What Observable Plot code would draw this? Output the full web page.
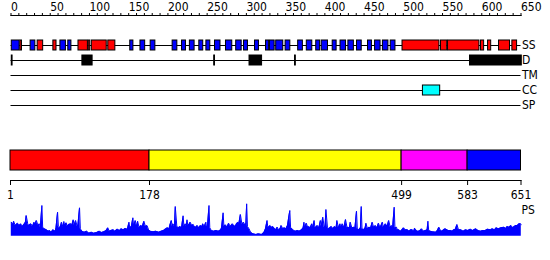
<!DOCTYPE html>
<html><head><meta charset="utf-8">
<script src="https://cdn.jsdelivr.net/npm/d3@7"></script>
<script src="https://cdn.jsdelivr.net/npm/@observablehq/plot@0.6"></script>
<style>
body{margin:0;background:#fff}
#chart{position:relative;width:550px;height:260px}
#chart svg{position:absolute;left:0;top:0}
</style></head><body><div id="chart"></div>
<script>
// ---- data ----
const tracks = ["SS", "D", "TM", "CC", "SP"];
const rulerTicks = d3.range(0, 651, 10);

// secondary structure: H = helix (red), E = strand (blue)
const ssStart = [1, 12, 25, 34, 54, 63, 73, 86, 99, 103, 124, 152, 165, 178, 206, 218, 228, 240, 249, 260, 274, 287, 297, 311, 325, 330, 338, 350, 366, 377, 389, 396, 410, 420, 430, 441, 455, 464, 474, 484, 499, 548, 557, 599, 608, 622, 639];
const ssEnd   = [11, 14, 31, 41, 58, 70, 77, 98, 101, 122, 133, 156, 171, 184, 212, 223, 234, 245, 254, 267, 282, 294, 302, 316, 329, 336, 347, 356, 372, 384, 394, 404, 415, 427, 437, 447, 460, 471, 481, 490, 546, 556, 597, 603, 612, 636, 645];
const ssType  = ["E","H","E","H","H","E","E","H","H","H","H","E","E","E","E","E","E","E","E","E","E","E","E","E","E","E","E","E","E","E","E","E","E","E","E","E","E","E","E","E","H","H","H","H","H","H","H"];

// disorder
const dStart = [1, 91, 259, 304, 362, 585];
const dEnd   = [2, 104, 260, 320, 363, 651];

// coiled coil
const ccStart = [525];
const ccEnd   = [547];

// domains
const domStart = [1, 178, 499, 583];
const domEnd   = [178, 499, 583, 651];
const domColor = ["#ff0000", "#ffff00", "#ff00ff", "#0000ff"];
const domTicks = [1, 178, 499, 583, 651];

// PS profile (residue, value)
const psRes = [1,3,4,6,9,11,13,15,17,19,20,22,23,26,28,30,31,33,35,37,38,40,41,43,46,48,50,52,54,57,58,60,61,62,64,65,67,68,69,71,72,74,77,78,80,81,83,85,86,88,89,91,94,97,100,103,106,110,113,116,119,122,124,126,128,131,133,136,139,141,144,146,149,151,152,154,156,157,159,161,162,164,166,168,170,172,174,176,178,182,185,189,192,195,198,200,202,203,205,206,207,209,210,212,214,216,218,220,221,223,224,225,226,228,229,231,233,234,236,238,240,242,244,245,247,249,250,251,253,254,256,259,262,265,268,269,271,272,274,276,278,280,283,285,287,288,290,291,293,295,297,298,300,301,302,304,306,309,313,316,320,323,325,327,328,331,332,334,336,338,340,342,344,345,347,349,351,353,356,357,359,361,363,366,368,371,373,374,375,377,379,380,382,384,385,387,388,390,391,393,395,396,398,400,401,402,404,405,407,409,411,413,415,416,418,420,421,423,425,427,429,430,432,433,435,438,439,441,442,444,446,447,448,450,452,453,455,457,459,461,463,465,467,469,471,474,475,478,480,482,484,486,487,489,490,492,493,495,497,499,501,503,506,508,510,512,514,515,518,520,522,524,526,529,531,532,533,535,538,542,544,546,548,550,552,554,558,561,563,565,567,569,571,574,577,580,583,586,589,593,596,599,602,605,608,612,614,617,619,622,625,629,631,633,635,638,640,642,644,646,648,650,651];
const psVal = [14.0,11.7,15.0,10.7,13.0,10.4,12.4,9.7,11.7,14.0,20.7,12.4,10.7,12.4,9.7,14.0,11.7,15.7,10.7,12.4,8.4,30.7,9.0,7.4,6.4,5.0,5.7,4.0,6.4,5.0,8.4,24.0,9.7,7.4,10.7,14.0,9.0,14.7,10.7,13.4,9.7,11.7,12.4,10.7,16.4,10.7,15.7,9.7,11.7,28.4,7.4,5.0,4.0,5.0,3.0,4.0,3.0,3.7,5.0,3.7,4.4,5.7,8.4,5.0,5.7,6.4,5.0,7.0,5.7,7.4,6.4,7.7,7.0,14.0,8.4,9.7,18.4,9.7,15.7,9.7,15.0,8.4,10.7,9.7,15.0,9.7,10.7,6.4,5.0,4.4,5.0,4.0,5.0,5.7,7.4,8.4,7.4,10.7,15.7,9.7,12.4,9.7,29.7,9.7,8.4,9.7,8.4,20.4,9.7,12.4,9.7,16.4,10.7,12.4,14.0,10.7,11.7,9.7,9.0,10.7,8.4,10.7,9.7,12.4,9.7,14.0,8.4,9.7,30.7,8.4,5.7,5.0,5.7,5.0,6.4,8.4,23.4,9.7,11.4,9.0,13.0,9.7,12.4,9.7,10.7,12.4,14.0,12.4,21.7,11.7,14.0,11.7,12.4,32.4,9.7,7.4,4.0,2.4,1.7,2.4,1.7,3.7,7.4,15.7,8.4,10.7,8.4,9.7,8.4,6.4,9.0,5.7,8.4,10.7,7.4,8.4,7.4,10.7,25.7,8.4,7.4,5.7,5.0,5.7,5.0,6.4,8.4,14.0,8.4,13.0,8.4,9.7,8.4,12.4,8.4,15.7,8.4,9.7,10.7,8.4,15.7,9.7,19.0,8.4,10.7,26.7,8.4,7.4,8.4,9.7,7.4,9.7,8.4,15.7,8.4,12.4,8.4,12.4,8.4,16.7,8.4,9.0,8.4,14.0,8.4,9.0,8.4,25.0,7.4,6.4,8.4,29.7,7.4,6.4,8.4,13.0,7.4,9.0,8.4,14.0,8.4,10.7,8.4,13.0,8.4,14.0,9.0,12.4,9.7,15.7,9.0,10.7,8.4,29.0,8.4,9.0,6.4,6.4,5.0,6.4,8.4,6.4,6.4,5.0,6.4,6.4,5.0,8.0,5.0,5.0,5.7,7.4,5.0,5.7,6.4,15.0,5.7,5.0,4.4,4.0,5.7,9.0,5.7,5.0,6.4,7.4,5.7,5.7,5.0,6.4,7.0,11.7,6.4,6.4,5.0,6.4,5.7,7.0,5.7,7.4,5.7,5.0,5.7,5.7,7.0,6.4,7.4,6.4,8.4,7.4,8.4,9.0,7.7,9.7,9.0,10.7,8.4,9.7,10.7,10.7,12.4,12.4,11.7];

// ---- build tables ----
const ss = ssStart.map((s, i) => ({track: "SS", start: s, end: ssEnd[i], type: ssType[i]}));
const dis = dStart.map((s, i) => ({track: "D", start: s, end: dEnd[i]}));
const cc = ccStart.map((s, i) => ({track: "CC", start: s, end: ccEnd[i]}));
const domains = domStart.map((s, i) => ({start: s, end: domEnd[i], color: domColor[i]}));
const ps = psRes.map((r, i) => ({r, v: psVal[i]}));

const style = {background: "none", color: "black", fontFamily: "'DejaVu Sans Condensed','DejaVu Sans',sans-serif", fontStretch: "condensed", fontSize: "12px", overflow: "visible"};

const chart = document.getElementById("chart");

// tracks + ruler
chart.append(Plot.plot({
  width: 550, height: 260, marginLeft: 10.5, marginRight: 29.5, marginTop: 15, marginBottom: 0,
  style,
  x: {domain: [0, 650], axis: null},
  y: {type: "band", domain: tracks, range: [37.5, 112.5], paddingInner: 1/3, paddingOuter: 1/6, axis: null},
  marks: [
    Plot.frame({anchor: "top"}),
    Plot.axisX({anchor: "top", ticks: rulerTicks, tickSize: 3, tickPadding: 2, textAnchor: "start", tickFormat: d => d % 50 === 0 ? String(d) : ""}),
    Plot.ruleY(tracks, {y: d => d, x1: 0, x2: 650, stroke: "black"}),
    Plot.barX(ss, {x1: "start", x2: "end", y: "track", fill: d => d.type === "H" ? "#ff0000" : "#0000ff", stroke: "black", strokeWidth: 1}),
    Plot.barX(dis, {x1: "start", x2: "end", y: "track", fill: "black", stroke: "black", strokeWidth: 1}),
    Plot.barX(cc, {x1: "start", x2: "end", y: "track", fill: "#00ffff", stroke: "black", strokeWidth: 1}),
    Plot.text(tracks, {y: d => d, text: d => d, frameAnchor: "right", textAnchor: "start", dx: 1, fill: "black"})
  ]
}));

// domain bar + axis
chart.append(Plot.plot({
  width: 550, height: 260, marginLeft: 10, marginRight: 29.5, marginTop: 150, marginBottom: 80,
  style,
  x: {domain: [1, 651], axis: null},
  y: {type: "band", domain: ["domains"], range: [150, 170], padding: 0, axis: null},
  marks: [
    Plot.barX(domains, {x1: "start", x2: "end", y: () => "domains", fill: "color", stroke: "black", strokeWidth: 1}),
    Plot.frame({anchor: "bottom"}),
    Plot.axisX({anchor: "bottom", ticks: domTicks, tickSize: 5, tickPadding: 5, tickFormat: d => String(d)})
  ]
}));

// PS profile
chart.append(Plot.plot({
  width: 550, height: 260, marginLeft: 10, marginRight: 30, marginTop: 200.7, marginBottom: 24.3,
  style,
  x: {domain: [0, 650], axis: null},
  y: {domain: [0, 35], axis: null},
  marks: [
    Plot.areaY(ps, {x: "r", y: "v", fill: "#0000ff"}),
    Plot.lineY(ps, {x: "r", y: "v", stroke: "#0000ff", strokeWidth: 1}),
    Plot.text(["PS"], {text: d => d, frameAnchor: "top-right", textAnchor: "start", lineAnchor: "top", dx: 1, dy: 4, fill: "black"})
  ]
}));
</script></body></html>
